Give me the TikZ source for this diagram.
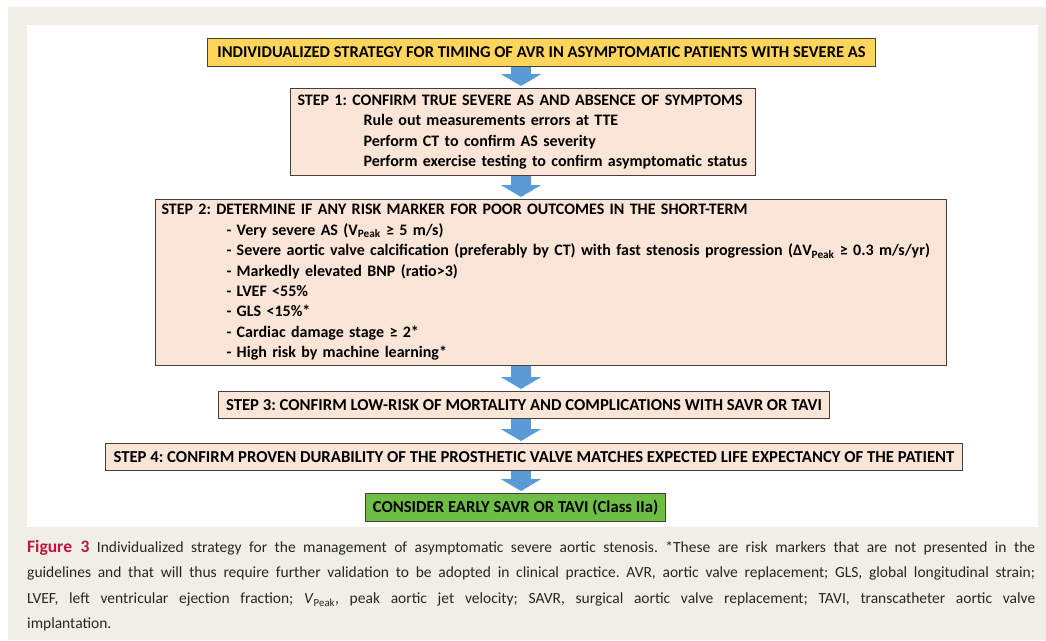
\documentclass[tikz,border=0pt]{standalone}
\usepackage{fontspec}
\setmainfont{Carlito}
\usetikzlibrary{arrows.meta,calc}
\frenchspacing
\definecolor{cream}{HTML}{F0EFE5}
\definecolor{titlefill}{HTML}{FFD55C}
\definecolor{stepfill}{HTML}{FBE5D6}
\definecolor{finalfill}{HTML}{6EBE46}
\definecolor{arrowblue}{HTML}{5B9BD5}
\definecolor{boxline}{HTML}{404040}
\definecolor{figred}{HTML}{C0143C}
\begin{document}
\begin{tikzpicture}[x=1pt,y=-1pt,
  box/.style={draw=boxline, line width=1pt, fill=stepfill, text=black,
    font=\bfseries\fontsize{16}{20.4}\selectfont, inner ysep=0pt, anchor=north west},
  onebox/.style={box, align=center, inner xsep=0pt, font=\bfseries\fontsize{16.7}{20.4}\selectfont},
  flow/.style={draw=arrowblue, line width=20pt, -{Triangle[width=40pt,length=12pt]}},
  captionstyle/.style={anchor=north west, inner sep=0pt, text width=1008pt, align=justify,
    font=\fontsize{15.5}{25.5}\selectfont, text=black!85}]
\useasboundingbox (0,0) rectangle (1046,640);
\fill[white] (0,0) rectangle (1046,640);
\fill[cream] (8,7) rectangle (1046,640);
\fill[white] (27,25) rectangle (1038,527);

\coordinate (ax) at (521,0);

\node[onebox, fill=titlefill, minimum width=668pt, minimum height=28pt,
      font=\bfseries\fontsize{16.5}{20.4}\selectfont] (title) at (207,38)
  {INDIVIDUALIZED STRATEGY FOR TIMING OF AVR IN ASYMPTOMATIC PATIENTS WITH SEVERE AS};

\node[box, inner xsep=7pt, text width=451pt, minimum height=87pt, align=left] (s1) at (290,88)
  {\mbox{STEP 1: CONFIRM TRUE SEVERE AS AND ABSENCE OF SYMPTOMS}\\
   \hspace*{66pt}\mbox{Rule out measurements errors at TTE}\\
   \hspace*{66pt}\mbox{Perform CT to confirm AS severity}\\
   \hspace*{66pt}\mbox{Perform exercise testing to confirm asymptomatic status}};

\node[box, inner xsep=6pt, text width=779pt, minimum height=166pt, align=left] (s2) at (155,199)
  {STEP 2: DETERMINE IF ANY RISK MARKER FOR POOR OUTCOMES IN THE SHORT-TERM\\
   \hspace*{65pt}- Very severe AS (V\textsubscript{Peak} ≥ 5 m/s)\\
   \hspace*{65pt}\mbox{- Severe aortic valve calcification (preferably by CT) with fast stenosis progression (ΔV\textsubscript{Peak} ≥ 0.3 m/s/yr)}\\
   \hspace*{65pt}- Markedly elevated BNP (ratio>3)\\
   \hspace*{65pt}- LVEF <55\%\\
   \hspace*{65pt}- GLS <15\%*\\
   \hspace*{65pt}- Cardiac damage stage ≥ 2*\\
   \hspace*{65pt}- High risk by machine learning*};

\node[onebox, minimum width=611pt, minimum height=27pt] (s3) at (218,391)
  {STEP 3: CONFIRM LOW-RISK OF MORTALITY AND COMPLICATIONS WITH SAVR OR TAVI};

\node[onebox, minimum width=857pt, minimum height=27pt] (s4) at (105,443)
  {STEP 4: CONFIRM PROVEN DURABILITY OF THE PROSTHETIC VALVE MATCHES EXPECTED LIFE EXPECTANCY OF THE PATIENT};

\node[onebox, fill=finalfill, minimum width=300pt, minimum height=28pt] (fin) at (365,493)
  {CONSIDER EARLY SAVR OR TAVI (Class IIa)};

\draw[flow] (title.south -| ax) -- ([yshift=2pt]s1.north -| ax);
\draw[flow] (s1.south -| ax) -- ([yshift=2pt]s2.north -| ax);
\draw[flow] (s2.south -| ax) -- ([yshift=2pt]s3.north -| ax);
\draw[flow] (s3.south -| ax) -- ([yshift=2pt]s4.north -| ax);
\draw[flow] (s4.south -| ax) -- ([yshift=2pt]fin.north -| ax);

\node[captionstyle] (cap) at (27,540)
  {{\color{figred}\bfseries\fontsize{17.5}{25.5}\selectfont Figure 3} Individualized strategy for the management of asymptomatic severe aortic stenosis. *These are risk markers that are not presented in the\linebreak
  guidelines and that will thus require further validation to be adopted in clinical practice. AVR, aortic valve replacement; GLS, global longitudinal strain;\linebreak
  LVEF, left ventricular ejection fraction; \textit{V}\textsubscript{Peak}, peak aortic jet velocity; SAVR, surgical aortic valve replacement; TAVI, transcatheter aortic valve\linebreak
  implantation.};
\end{tikzpicture}
\end{document}
